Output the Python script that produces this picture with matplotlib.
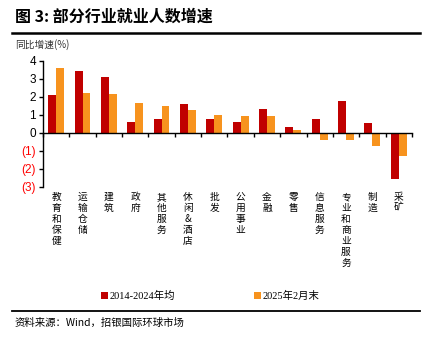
import numpy as np
import matplotlib
matplotlib.use("Agg")
from matplotlib import pyplot as plt
from matplotlib.lines import Line2D

plt.rcParams['font.family'] = ['Liberation Sans', 'Noto Sans CJK SC', 'DejaVu Sans']

# data
industries = ["教育和保健", "运输仓储", "建筑", "政府", "其他服务", "休闲&酒店", "批发",
              "公用事业", "金融", "零售", "信息服务", "专业和商业服务", "制造", "采矿"]
avg_2014_2024 = [2.10, 3.46, 3.13, 0.60, 0.78, 1.63, 0.77, 0.60, 1.35, 0.35, 0.78, 1.76, 0.54, -2.55]
feb_2025 = [3.60, 2.20, 2.15, 1.65, 1.52, 1.26, 0.98, 0.94, 0.93, 0.17, -0.39, -0.40, -0.70, -1.30]
yticks = [-3, -2, -1, 0, 1, 2, 3, 4]

red = "#C00000"
orange = "#F7931E"
cjk = ['Noto Sans CJK SC', 'DejaVu Sans']

fig = plt.figure(figsize=(4.29, 3.39), dpi=100)
ax = fig.add_axes([0.1002, 0.4484, 0.860, 0.3717])

x = np.arange(len(industries))
w = 0.3
ax.bar(x - w/2, avg_2014_2024, w, color=red, label="2014-2024年均")
ax.bar(x + w/2, feb_2025, w, color=orange, label="2025年2月末")

ax.set_xlim(-0.5, len(industries) - 0.5)
ax.set_ylim(-3, 4)
ax.set_yticks(yticks)
ax.set_yticklabels([str(v) if v >= 0 else "(%d)" % -v for v in yticks], fontsize=8.5)
for lab, v in zip(ax.get_yticklabels(), yticks):
    if v < 0:
        lab.set_color("#FF0000")

ax.spines['top'].set_visible(False)
ax.spines['right'].set_visible(False)
ax.spines['bottom'].set_position(('data', 0))
ax.spines['left'].set_linewidth(1.0)
ax.spines['bottom'].set_linewidth(1.0)
ax.set_xticks(np.arange(-0.5, len(industries), 1.0))
ax.set_xticklabels([])
ax.tick_params(axis='x', direction='out', length=3, width=1.0)
ax.tick_params(axis='y', direction='out', length=3, width=1.0, pad=2)

# vertical category labels, characters stacked
for i, name in enumerate(industries):
    ax.text(i, -0.04, "\n".join(name), transform=ax.get_xaxis_transform(),
            ha='center', va='top', fontsize=7, linespacing=1.12, family=cjk)

# title and rules
fig.text(0.035, 0.95, "图 3: 部分行业就业人数增速", fontsize=11.5, fontweight='bold',
         family=cjk, va='center')
fig.add_artist(Line2D([0.028, 0.98], [0.902, 0.902], color='black', lw=1.8))
fig.text(0.035, 0.868, "同比增速(%)", fontsize=7, family=cjk, va='center', color='#333333')

leg = fig.legend(loc='center', bbox_to_anchor=(0.49, 0.127), ncol=2, frameon=False,
                 handlelength=0.7, handleheight=0.7, handletextpad=0.2,
                 columnspacing=7.5, prop={'family': ['Liberation Serif', 'Noto Sans CJK SC'], 'size': 7.5})

fig.add_artist(Line2D([0.028, 0.98], [0.083, 0.083], color='black', lw=1.3))
fig.text(0.035, 0.047, "资料来源：Wind，招银国际环球市场", fontsize=7.5, family=cjk, va='center')

fig.savefig("out.png", dpi=100)
